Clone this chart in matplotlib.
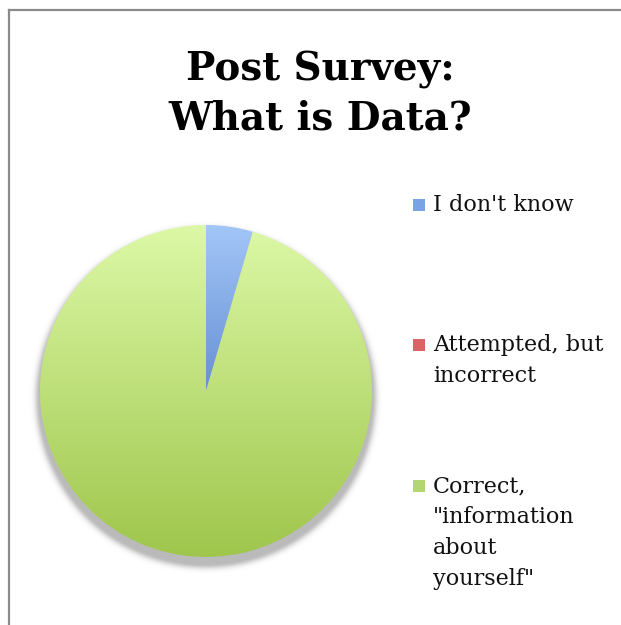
import numpy as np
import matplotlib
matplotlib.use('Agg')
import matplotlib.pyplot as plt
from matplotlib.colors import LinearSegmentedColormap
from matplotlib.lines import Line2D
from matplotlib.patches import Rectangle

# survey answers to "What is Data?" after the session
categories = ["I don't know", "Attempted, but\nincorrect", "Correct,\n\"information\nabout\nyourself\""]
counts = [1, 0, 21]
top_colors = ['#a3c6f8', '#f09a9a', '#dcf8a6']
bottom_colors = ['#6790d4', '#c94848', '#9fc64c']
legend_colors = ['#7aa3e6', '#dc6464', '#b4d672']

W, H = 621, 625
fig = plt.figure(figsize=(W / 100, H / 100), dpi=100)
fig.patch.set_facecolor('white')

# pie axes: centre at (206, 391) px, radius 166 px, limits +-1.1
r_px = 166
half = r_px * 1.1
ax = fig.add_axes([(206 - half) / W, (H - 391 - half) / H, 2 * half / W, 2 * half / H])
ax.set_xlim(-1.1, 1.1)
ax.set_ylim(-1.1, 1.1)
ax.set_aspect('equal')
ax.axis('off')

# soft drop shadow under the pie, shifted down
gx, gy = np.meshgrid(np.linspace(-1.1, 1.1, 600), np.linspace(-1.1, 1.1, 600))
d = np.hypot(gx, gy + 0.04) - 1.0
alpha = 0.45 * np.exp(-(np.clip(d, 0, None) / 0.03) ** 2)
shadow = np.zeros(gx.shape + (4,))
shadow[..., :3] = 0.4
shadow[..., 3] = alpha
ax.imshow(shadow, extent=(-1.1, 1.1, -1.1, 1.1), origin='lower', zorder=0, interpolation='bilinear')

wedges, _ = ax.pie(counts, startangle=90, counterclock=False, radius=1.0,
                   wedgeprops=dict(facecolor='none', edgecolor='none'))

# vertical gradient inside each slice, light at top, darker at bottom
grad = np.linspace(0, 1, 256).reshape(-1, 1)
for w, c_top, c_bot, n in zip(wedges, top_colors, bottom_colors, counts):
    if n == 0:
        continue
    w.set_zorder(2)
    bb = w.get_path().get_extents(w.get_patch_transform())
    cmap = LinearSegmentedColormap.from_list('g', [c_bot, c_top])
    im = ax.imshow(grad, cmap=cmap, origin='lower', aspect='auto',
                   extent=(bb.x0, bb.x1, bb.y0, bb.y1), zorder=1, interpolation='bilinear')
    im.set_clip_path(w)
ax.set_xlim(-1.1, 1.1)
ax.set_ylim(-1.1, 1.1)

# title
fig.text(320 / W, 1 - 70 / H, 'Post Survey:', ha='center', va='center',
         fontsize=28, fontweight='bold', family='DejaVu Serif')
fig.text(320 / W, 1 - 118 / H, 'What is Data?', ha='center', va='center',
         fontsize=28, fontweight='bold', family='DejaVu Serif')

# legend entries on the right
first_line_y = [205, 345, 486]
line_h = 31
for label, col, y0 in zip(categories, legend_colors, first_line_y):
    fig.patches.append(Rectangle((413 / W, 1 - (y0 + 6) / H), 12 / W, 12 / H,
                                 transform=fig.transFigure, facecolor=col, edgecolor='none'))
    for i, line in enumerate(label.split('\n')):
        fig.text(433 / W, 1 - (y0 + i * line_h) / H, line, ha='left', va='center',
                 fontsize=16, family='DejaVu Serif', color='#111111')

# chart area border (top and left edges)
fig.add_artist(Line2D([9 / W, 1], [1 - 10 / H, 1 - 10 / H], color='#8a8a8a', lw=1.6))
fig.add_artist(Line2D([9 / W, 9 / W], [0, 1 - 10 / H], color='#8a8a8a', lw=1.6))

fig.savefig('out.png', dpi=100)
